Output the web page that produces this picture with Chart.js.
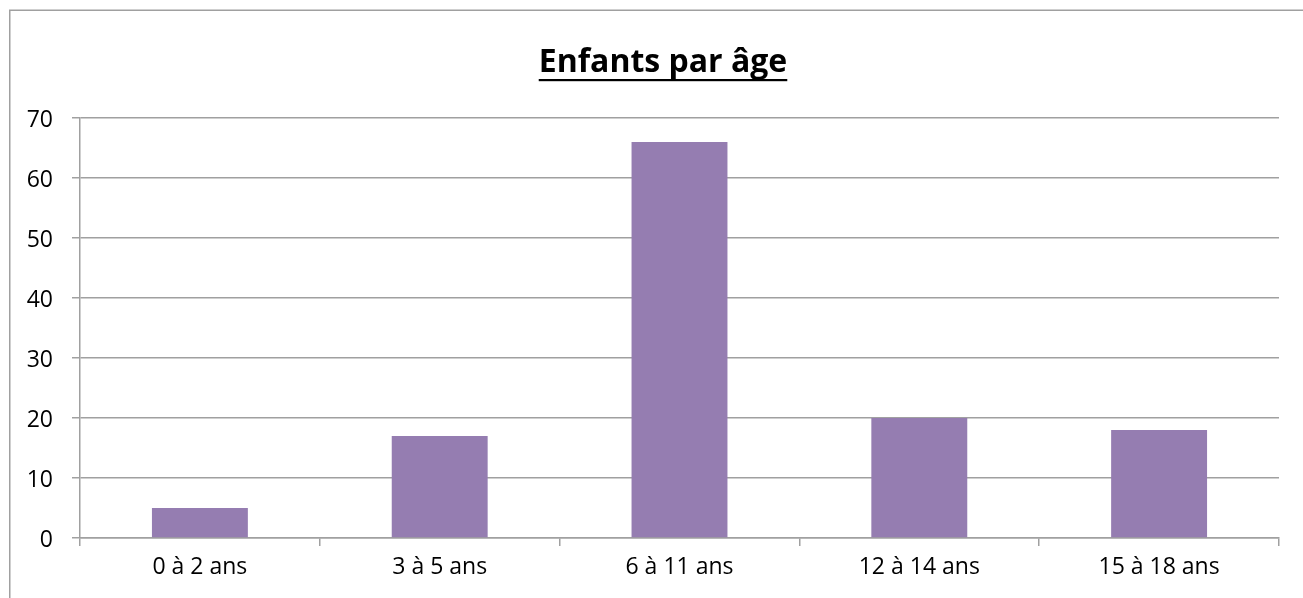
<!DOCTYPE html>
<html>
<head>
<meta charset="utf-8">
<script src="https://cdn.jsdelivr.net/npm/chart.js@4.4.1/dist/chart.umd.min.js"></script>
<style>
html,body{margin:0;padding:0;background:#fff;overflow:hidden;}
#wrap{position:absolute;left:0;top:0;width:1303px;height:598px;}
</style>
</head>
<body>
<div id="wrap"><canvas id="c" width="1303" height="598"></canvas></div>
<script>
const titleText = "Enfants par âge";
const categories = ["0 à 2 ans", "3 à 5 ans", "6 à 11 ans", "12 à 14 ans", "15 à 18 ans"];
const values = [5, 17, 66, 20, 18];
const yTicks = [0, 10, 20, 30, 40, 50, 60, 70];

const FONT = "'Open Sans', 'DejaVu Sans', sans-serif";
const GRID = "#a0a0a0";

const frameAndTitle = {
  id: "frameAndTitle",
  afterLayout(chart) {
    const s = chart.scales.y;
    if (s && !s._shifted) {
      const orig = s.drawLabels.bind(s);
      s.drawLabels = function (area) {
        const ctx = chart.ctx;
        ctx.save();
        ctx.translate(0, 2);
        orig(area);
        ctx.restore();
      };
      s._shifted = true;
    }
  },
  beforeDraw(chart) {
    const ctx = chart.ctx;
    ctx.save();
    ctx.strokeStyle = "#a0a0a0";
    ctx.lineWidth = 1.5;
    ctx.beginPath();
    ctx.moveTo(9.75, 700);
    ctx.lineTo(9.75, 10.25);
    ctx.lineTo(1400, 10.25);
    ctx.stroke();
    ctx.restore();
  },
  afterDraw(chart) {
    const ctx = chart.ctx;
    ctx.save();
    ctx.font = "bold 32px " + FONT;
    ctx.fillStyle = "#000";
    ctx.textAlign = "center";
    ctx.textBaseline = "alphabetic";
    const cx = 663;
    const base = 72;
    ctx.fillText(titleText, cx, base);
    const w = ctx.measureText(titleText).width;
    ctx.fillRect(cx - w / 2, base + 7, w, 2.2);
    ctx.restore();
  }
};

new Chart(document.getElementById("c"), {
  type: "bar",
  data: {
    labels: categories,
    datasets: [{
      data: values,
      backgroundColor: "#957db1",
      borderWidth: 0,
      barPercentage: 0.4,
      categoryPercentage: 1.0
    }]
  },
  options: {
    responsive: false,
    animation: false,
    devicePixelRatio: 1,
    layout: { padding: { left: 10, right: 24, top: 118, bottom: 0 } },
    plugins: {
      legend: { display: false },
      tooltip: { enabled: false },
      title: { display: false }
    },
    scales: {
      x: {
        offset: true,
        grid: { offset: true, drawOnChartArea: false, drawTicks: true, tickLength: 8, color: GRID, lineWidth: 1.5 },
        border: { display: true, color: GRID, width: 1.5 },
        ticks: { color: "#000", font: { family: FONT, size: 23 }, padding: 8, maxRotation: 0, autoSkip: false },
        afterFit(s) { s.height = 60; }
      },
      y: {
        min: 0,
        max: 70,
        afterBuildTicks(s) { s.ticks = yTicks.map(v => ({ value: v })); },
        grid: { color: GRID, lineWidth: 1.5, tickLength: 8 },
        border: { display: true, color: GRID, width: 1.5 },
        ticks: { color: "#000", font: { family: FONT, size: 23 }, padding: 19 },
        afterFit(s) { s.width = 70; }
      }
    }
  },
  plugins: [frameAndTitle]
});
</script>
</body>
</html>
